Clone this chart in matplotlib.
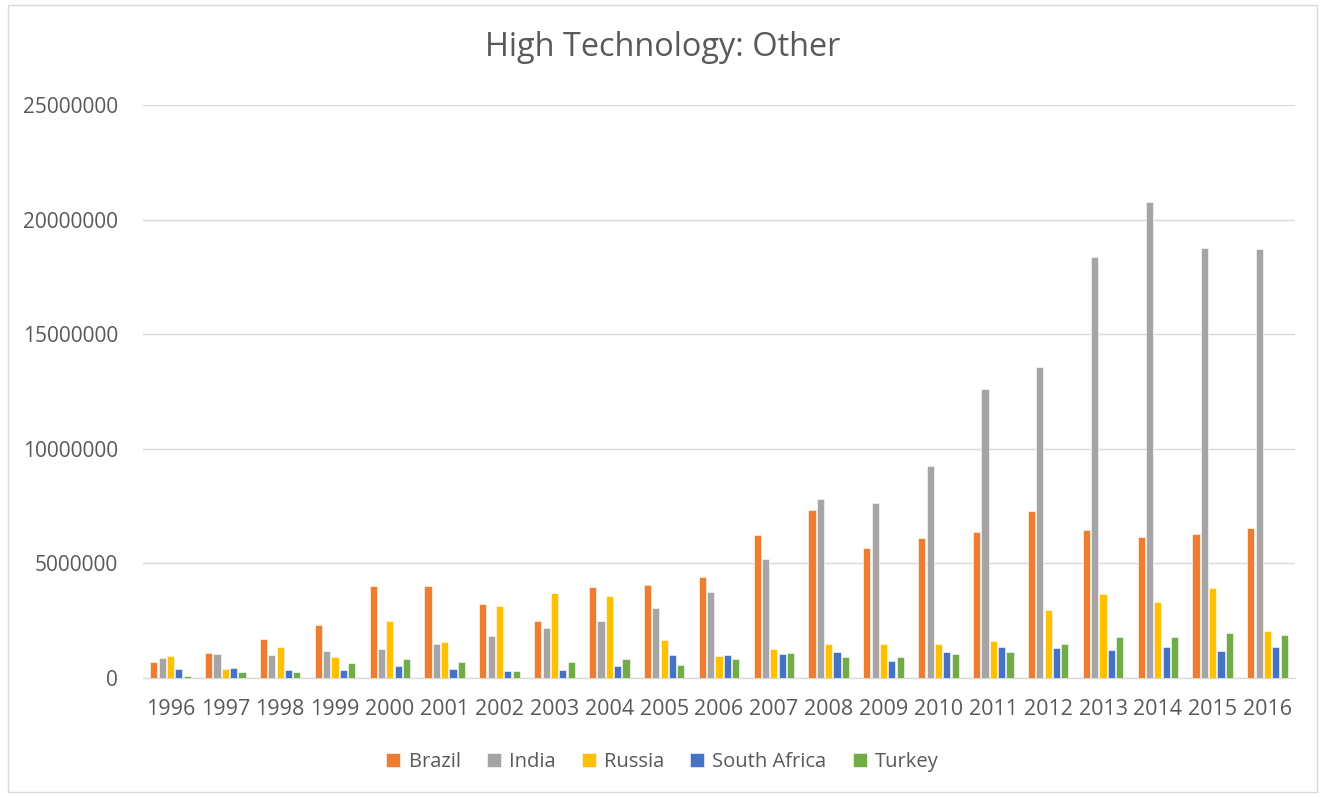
import matplotlib
matplotlib.use("Agg")
import matplotlib.pyplot as plt
import numpy as np
from matplotlib.patches import Rectangle

years = [str(y) for y in range(1996, 2017)]
brazil = [0.70e6, 1.08e6, 1.69e6, 2.31e6, 4.00e6, 4.01e6, 3.24e6, 2.50e6, 3.96e6, 4.06e6, 4.42e6,
          6.24e6, 7.34e6, 5.67e6, 6.11e6, 6.37e6, 7.29e6, 6.46e6, 6.15e6, 6.28e6, 6.55e6]
india = [0.86e6, 1.03e6, 1.00e6, 1.16e6, 1.27e6, 1.48e6, 1.82e6, 2.17e6, 2.49e6, 3.04e6, 3.75e6,
         5.20e6, 7.82e6, 7.64e6, 9.25e6, 12.61e6, 13.57e6, 18.37e6, 20.77e6, 18.76e6, 18.72e6]
russia = [0.95e6, 0.41e6, 1.34e6, 0.90e6, 2.49e6, 1.58e6, 3.14e6, 3.71e6, 3.58e6, 1.66e6, 0.96e6,
          1.27e6, 1.48e6, 1.48e6, 1.48e6, 1.63e6, 2.97e6, 3.67e6, 3.33e6, 3.93e6, 2.04e6]
south_africa = [0.39e6, 0.44e6, 0.35e6, 0.35e6, 0.51e6, 0.39e6, 0.31e6, 0.35e6, 0.51e6, 1.00e6, 0.99e6,
                1.03e6, 1.12e6, 0.74e6, 1.15e6, 1.34e6, 1.30e6, 1.21e6, 1.34e6, 1.18e6, 1.35e6]
turkey = [0.10e6, 0.26e6, 0.26e6, 0.65e6, 0.83e6, 0.70e6, 0.31e6, 0.70e6, 0.84e6, 0.57e6, 0.84e6,
          1.08e6, 0.92e6, 0.92e6, 1.06e6, 1.15e6, 1.48e6, 1.79e6, 1.77e6, 1.96e6, 1.89e6]

series_names = ["Brazil", "India", "Russia", "South Africa", "Turkey"]
series = [brazil, india, russia, south_africa, turkey]
colors = ["#ED7D31", "#A5A5A5", "#FFC000", "#4472C4", "#70AD47"]

plt.rcParams['font.family'] = ['Open Sans', 'DejaVu Sans']
text_color = "#595959"

fig = plt.figure(figsize=(13.25, 7.97), dpi=100)
fig.patches.append(Rectangle((0.006, 0.006), 0.988, 0.988, transform=fig.transFigure,
                             fill=False, edgecolor="#D9D9D9", linewidth=1.0))
ax = fig.add_axes([143/1325, 1 - 678/797, (1295-143)/1325, (678-105)/797])

x = np.arange(len(years))
step = 0.152
width = 0.13
for i, (name, vals, c) in enumerate(zip(series_names, series, colors)):
    ax.bar(x + (i - 2) * step, vals, width=width, color=c, label=name,
           edgecolor="white", linewidth=0.4, zorder=3)

ax.set_xlim(-0.5, len(years) - 0.5)
ax.set_ylim(0, 25000000)
ax.set_yticks(np.arange(0, 25000001, 5000000))
ax.set_yticklabels([str(int(v)) for v in np.arange(0, 25000001, 5000000)])
ax.set_xticks(x)
ax.set_xticklabels(years)
ax.grid(axis='y', color="#D9D9D9", linewidth=1.0, zorder=0)
for s in ["top", "right", "left"]:
    ax.spines[s].set_visible(False)
ax.spines["bottom"].set_color("#D9D9D9")
ax.spines["bottom"].set_linewidth(1.0)
ax.tick_params(axis='y', length=0, labelsize=15, colors=text_color, pad=18)
ax.tick_params(axis='x', length=0, labelsize=15.5, colors=text_color, pad=15)

fig.text(0.5, 1 - 48/797, "High Technology: Other", ha='center', va='center',
         fontsize=23.4, color=text_color)

leg = fig.legend(loc='center', bbox_to_anchor=(0.5, 1 - 762/797), ncol=5, frameon=False,
                 fontsize=14.5, handlelength=0.7, handleheight=0.7, columnspacing=1.3,
                 handletextpad=0.4)
for t in leg.get_texts():
    t.set_color(text_color)

fig.savefig("out.png", dpi=100)
